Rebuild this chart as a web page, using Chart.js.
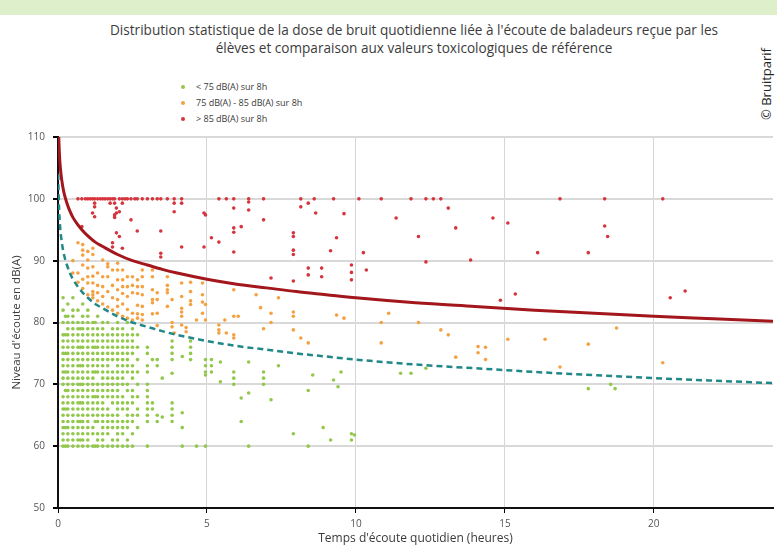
<!DOCTYPE html>
<html lang="fr">
<head>
<meta charset="utf-8">
<title>Dose de bruit quotidienne - baladeurs</title>
<script src="https://cdn.jsdelivr.net/npm/chart.js@4.4.1/dist/chart.umd.min.js"></script>
<style>
    body { margin: 0; background: #fff; font-family: 'Open Sans', sans-serif; }
    #page { position: relative; width: 777px; height: 547px; overflow: hidden; }
    #bandeau { position: absolute; left: 0; top: 0; width: 777px; height: 15px; background: #deefcc; }
    #titre { position: absolute; left: 64px; top: 21px; width: 700px; text-align: center;
             font-size: 13.6px; line-height: 18px; color: #3c3c3c; }
    #legende { position: absolute; left: 179px; top: 79px; font-size: 9px; color: #3a3a3a; }
    #legende div { height: 16px; line-height: 16px; }
    #legende span.pt { display: inline-block; width: 4px; height: 4px; border-radius: 2px;
                       margin: 0 11px 1px 2px; vertical-align: middle; }
    #copyright { position: absolute; left: 766px; top: 84px; transform: translate(-50%, -50%) rotate(-90deg);
                 font-size: 13px; color: #222; white-space: nowrap; }
    #graphique { position: absolute; left: 0; top: 0; }
</style>
</head>
<body>
<div id="page">
    <div id="bandeau"></div>
    <div id="titre">Distribution statistique de la dose de bruit quotidienne liée à l'écoute de baladeurs reçue par les<br>élèves et comparaison aux valeurs toxicologiques de référence</div>
    <div id="legende">
        <div><span class="pt" style="background:#92c84c"></span>&lt; 75 dB(A) sur 8h</div>
        <div><span class="pt" style="background:#f5a142"></span>75 dB(A) - 85 dB(A) sur 8h</div>
        <div><span class="pt" style="background:#d6343c"></span>&gt; 85 dB(A) sur 8h</div>
    </div>
    <div id="copyright">© Bruitparif</div>
    <canvas id="graphique" width="777" height="547"></canvas>
</div>
<script>
// Axes
const xTicks = [0, 5, 10, 15, 20];
const yTicks = [50, 60, 70, 80, 90, 100, 110];

// Élèves < 75 dB(A) sur 8h : durée (heures) et niveaux relevés dans chaque colonne
const greenTimes = [0.17, 0.25, 0.33, 0.5, 0.67, 0.75, 0.83, 1, 1.17, 1.25, 1.33, 1.5, 1.67, 1.83, 2, 2.17, 2.33, 2.5,
    2.67, 3, 3.17, 3.33, 3.5, 3.83, 4.17, 4.45, 4.65, 4.95, 5.15, 5.45, 5.9, 6.15, 6.4, 6.9, 7.15, 7.4, 7.9,
    8.4, 8.55, 8.9, 9.15, 9.25, 9.4, 9.5, 9.85, 9.95, 11.5, 11.85, 12.35, 17.8, 18.55, 18.7];
const greenLevels = [
    [60, 61, 62, 63, 64, 65, 66, 67, 68, 70, 71, 72, 73, 74, 75, 76, 77, 78, 80, 82, 84],
    [60, 63, 66, 69, 72, 75, 78, 81],
    [60, 61, 62, 63, 64, 65, 66, 67, 68, 69, 70, 71, 72, 73, 74, 75, 76, 77, 78, 79, 80, 81, 83],
    [60, 61, 62, 63, 64, 65, 66, 67, 68, 69, 70, 71, 72, 73, 74, 75, 76, 77, 78, 79, 80, 81, 82, 84],
    [60, 61, 62, 63, 64, 65, 66, 67, 68, 69, 70, 71, 72, 73, 74, 75, 76, 77, 78, 79, 80, 82],
    [61, 64, 67, 70, 73, 76, 79],
    [60, 61, 62, 63, 64, 65, 66, 67, 68, 69, 70, 71, 72, 73, 74, 75, 76, 77, 78, 79, 80, 81, 83],
    [60, 61, 62, 63, 64, 65, 66, 67, 68, 69, 70, 71, 72, 73, 74, 75, 76, 77, 78, 79, 80, 81, 82],
    [60, 62, 63, 65, 66, 67, 68, 69, 70, 71, 72, 73, 74, 75, 76, 77, 78, 79, 80],
    [60, 64, 68, 72, 76, 80],
    [60, 61, 62, 64, 65, 66, 67, 68, 69, 70, 72, 73, 74, 75, 76, 77, 78, 79, 81],
    [60, 61, 62, 63, 64, 65, 66, 67, 68, 69, 70, 71, 72, 73, 74, 75, 76, 77, 78, 79, 80],
    [60, 62, 63, 64, 65, 66, 68, 69, 70, 71, 72, 73, 74, 75, 76, 77, 78, 80],
    [60, 61, 63, 64, 65, 67, 68, 69, 70, 71, 72, 74, 75, 76, 77, 78, 79],
    [60, 61, 62, 63, 64, 65, 66, 67, 68, 69, 70, 71, 72, 73, 74, 75, 76, 77, 78, 79, 80],
    [60, 62, 63, 64, 66, 67, 68, 70, 71, 72, 73, 74, 75, 76, 77, 78, 79],
    [60, 61, 63, 64, 65, 66, 67, 69, 70, 72, 73, 74, 75, 76, 77, 78, 80],
    [60, 62, 64, 65, 67, 68, 69, 71, 72, 73, 75, 76, 77, 78, 79],
    [63, 65, 66, 68, 70, 72, 74, 76, 78],
    [60, 64, 65, 66, 67, 68, 69, 70, 72, 73, 75, 76],
    [66, 67, 74],
    [64, 65, 73, 74],
    [64.7, 71],
    [64, 65, 66, 67, 71.8, 74, 75, 76, 77],
    [60, 63, 65.4, 74.5],
    [74, 75, 76, 77],
    [60],
    [60, 71.5, 72, 73, 74],
    [72, 73, 74],
    [70.4, 73.6],
    [70, 71, 72],
    [64, 67.8],
    [60, 68.6, 73.6],
    [70, 71, 72],
    [67.5],
    [73],
    [62],
    [60, 69],
    [71.5],
    [63],
    [61],
    [70.7],
    [69.6],
    [72],
    [61, 62],
    [61.8],
    [71.8],
    [71.8],
    [72.6],
    [69.3],
    [70],
    [69.3]
];

// Élèves entre 75 et 85 dB(A) sur 8h
const orangeTimes = [0.5, 0.67, 0.83, 1, 1.17, 1.33, 1.5, 1.67, 1.83, 2, 2.17, 2.33, 2.5, 2.67, 2.83, 3.17, 3.33, 3.67,
    3.83, 3.9, 4.15, 4.3, 4.45, 4.65, 4.85, 4.95, 5.4, 5.6, 5.65, 5.9, 6.05, 6.65, 6.8, 6.9, 7.15, 7.4, 7.9, 8.15,
    8.4, 9.35, 9.6, 10.85, 11.1, 12.1, 12.85, 13.1, 13.35, 14.1, 14.35, 15.1, 16.35, 16.85, 17.8, 18.75, 20.3];
const orangeLevels = [
    [88, 90],
    [86.5, 88, 92.9],
    [85.5, 87, 89.3, 90.9, 91.7, 92.6],
    [84.5, 86.4, 87.4, 88.8, 90.1, 91.5],
    [84, 84.5, 85, 86.4, 87.5, 89, 91, 92],
    [83.5, 84.8, 86, 88],
    [83, 84.2, 85.8, 87.4, 90.1],
    [82.5, 85, 87.4, 89, 89.5],
    [82, 84, 86, 88.5],
    [81.5, 82.6, 83.7, 85.3, 86.9, 88.5, 89.6],
    [81, 83, 84.7, 85.8, 86.9, 88.5],
    [80.7, 82.1, 84.2, 85.8, 87.4],
    [80.4, 81.5, 84.8, 86, 87.4],
    [80.7, 81.4, 82.8, 84.7, 85.8, 86.9],
    [80.4, 81.3, 82.6, 84.5, 85.8, 87.4, 88.5],
    [81.4, 83.2, 83.7, 85.3, 87.4, 88.5],
    [79.5, 81.5, 83.7, 84.8],
    [82.6, 84.8, 85.3, 86, 87.4],
    [79.3, 80, 83.7],
    [78.3],
    [79.6, 81, 81.7, 82.3, 84.2, 86.4],
    [78.5, 79.2],
    [82.9, 83.5, 85, 86.5],
    [80.4],
    [81.5, 83.3, 84.5, 86.4],
    [80.4, 82.9],
    [78.3, 78.8, 79.6],
    [80.4],
    [78.3],
    [77.5, 78, 81, 85.3],
    [81],
    [84.5],
    [82.4],
    [79],
    [80, 81.5],
    [84],
    [78.8, 81, 81.7],
    [77.5],
    [76.7],
    [81.2],
    [80.7],
    [76.7, 80],
    [81.5],
    [80],
    [78.8],
    [78],
    [74.4],
    [75.1, 76.1],
    [74, 76],
    [77.3],
    [77.3],
    [72.8],
    [76.5],
    [79.1],
    [73.5]
];

// Élèves > 85 dB(A) sur 8h
const redTimes = [0.67, 0.8, 0.92, 1, 1.08, 1.16, 1.23, 1.33, 1.42, 1.5, 1.58, 1.67, 1.75, 1.83, 1.9, 1.96, 2.06, 2.16,
    2.25, 2.33, 2.45, 2.58, 2.66, 2.83, 3, 3.17, 3.33, 3.45, 3.67, 3.9, 4.15, 4.9, 4.95, 5.15, 5.4, 5.65, 5.9, 6.15,
    6.4, 6.9, 7.15, 7.9, 8.15, 8.4, 8.6, 8.65, 8.85, 9.15, 9.25, 9.35, 9.6, 9.85, 10.1, 10.25, 10.35, 10.85, 11.35,
    11.85, 12.1, 12.35, 12.6, 12.85, 13.1, 13.35, 13.85, 14.6, 14.85, 15.1, 15.35, 16.1, 16.85, 17.8, 18.35, 18.45,
    20.3, 20.55, 21.05];
const redLevels = [
    [100], [95.5, 100], [100], [100], [100], [97.7, 100], [97.1, 98.7, 99.3, 100], [100], [100], [100], [100], [100],
    [99.3, 100], [92.2, 92.9, 100], [97, 97.4, 99.3, 100], [94.5, 97.7, 98.5], [93.9, 97.9, 100], [92, 99.3, 100],
    [100], [100], [96.6, 100], [100], [94.8, 100], [100], [100], [100], [100], [90.6, 91.2, 94.8, 100], [100],
    [97.9, 99.3, 100], [92.2, 99.3, 100], [92.2, 97.7], [97.4], [93.7], [93, 100], [100],
    [91.4, 94.6, 95.3, 98.5, 100], [95.5], [98.2, 99.5, 100], [96.6, 100], [87.2], [86.7, 91, 91.7, 93.9, 94.5],
    [98.7, 100], [87.7, 88.8, 99.3], [100], [97.7], [87.4, 88.8], [91.6], [100], [93.7], [97.6], [86.9, 88.1, 89.3],
    [100], [91.3], [88.5], [100], [96.9], [100], [93.9], [89.8, 100], [100], [100], [98.5], [95.3], [90.1],
    [96.9], [83.6], [96.1], [84.6], [91.3], [100], [91.3], [95.6, 100], [93.9], [100], [84], [85.1]
];

// Courbes de référence (85 et 75 dB(A) sur 8h)
const redCurveTimes = [0.025, 0.04, 0.06, 0.08, 0.1, 0.13, 0.17, 0.22, 0.3, 0.4, 0.5, 0.65, 0.8, 1, 1.25, 1.5, 2, 2.5,
    3, 3.5, 4, 5, 6, 7, 8, 9, 10, 12, 14, 16, 18, 20, 22, 24];
const redCurveLevels = [110, 108, 106.2, 105, 104, 102.9, 101.7, 100.6, 99.3, 98, 97, 95.9, 95, 94, 93, 92.3, 91, 90,
    89.3, 88.6, 88, 87, 86.2, 85.6, 85, 84.5, 84, 83.2, 82.6, 82, 81.5, 81, 80.6, 80.2];
const tealCurveTimes = [0.01, 0.015, 0.025, 0.04, 0.06, 0.08, 0.1, 0.13, 0.17, 0.22, 0.3, 0.4, 0.5, 0.65, 0.8, 1, 1.25,
    1.5, 2, 2.5, 3, 3.5, 4, 5, 6, 7, 8, 9, 10, 12, 14, 16, 18, 20, 22, 24];
const tealCurveLevels = [104, 102.3, 100, 98, 96.2, 95, 94, 92.9, 91.7, 90.6, 89.3, 88, 87, 85.9, 85, 84, 83, 82.3, 81,
    80, 79.3, 78.6, 78, 77, 76.2, 75.6, 75, 74.5, 74, 73.2, 72.6, 72, 71.5, 71, 70.6, 70.2];

function columnsToPoints(times, levels) {
    const points = [];
    times.forEach((t, i) => {
        levels[i].forEach(v => points.push({ x: t, y: v }));
    });
    return points;
}

function curveToPoints(times, levels) {
    return times.map((t, i) => ({ x: t, y: levels[i] }));
}

function pointDataset(label, data, color) {
    return {
        label: label,
        data: data,
        backgroundColor: color,
        borderWidth: 0,
        pointRadius: 1.8,
        order: 2
    };
}

const ctx = document.getElementById('graphique').getContext('2d');
new Chart(ctx, {
    type: 'scatter',
    data: {
        datasets: [
            {
                label: '85 dB(A) sur 8h',
                data: curveToPoints(redCurveTimes, redCurveLevels),
                showLine: true,
                borderColor: '#a3161c',
                borderWidth: 3,
                pointRadius: 0,
                cubicInterpolationMode: 'monotone',
                order: 0
            },
            {
                label: '75 dB(A) sur 8h',
                data: curveToPoints(tealCurveTimes, tealCurveLevels),
                showLine: true,
                borderColor: '#218888',
                borderWidth: 2.5,
                borderDash: [6, 4],
                pointRadius: 0,
                cubicInterpolationMode: 'monotone',
                order: 1
            },
            pointDataset('< 75 dB(A) sur 8h', columnsToPoints(greenTimes, greenLevels), '#92c84c'),
            pointDataset('75 dB(A) - 85 dB(A) sur 8h', columnsToPoints(orangeTimes, orangeLevels), '#f5a142'),
            pointDataset('> 85 dB(A) sur 8h', columnsToPoints(redTimes, redLevels), '#d6343c')
        ]
    },
    options: {
        responsive: false,
        animation: false,
        layout: { padding: { top: 137, left: 0, right: 1, bottom: 0 } },
        plugins: {
            legend: { display: false },
            title: { display: false },
            tooltip: { enabled: false }
        },
        scales: {
            x: {
                type: 'linear',
                min: 0,
                max: 24,
                afterFit: axis => { axis.height = 39; },
                afterBuildTicks: axis => { axis.ticks = xTicks.map(v => ({ value: v })); },
                ticks: { color: '#555', font: { family: 'Open Sans', size: 10 }, padding: 5 },
                grid: { color: '#d6d6d6', lineWidth: 1, tickColor: '#000', tickLength: 5 },
                border: { color: '#111', width: 2 },
                title: {
                    display: true,
                    text: "Temps d'écoute quotidien (heures)",
                    color: '#3a3a3a',
                    font: { family: 'Open Sans', size: 12 },
                    padding: { top: 0, bottom: 1 }
                }
            },
            y: {
                type: 'linear',
                min: 50,
                max: 110,
                afterFit: axis => { axis.width = 58; },
                afterBuildTicks: axis => { axis.ticks = yTicks.map(v => ({ value: v })); },
                ticks: { color: '#555', font: { family: 'Open Sans', size: 10 }, padding: 8 },
                grid: { color: '#d9d9d9', lineWidth: 2, tickColor: '#000', tickLength: 5 },
                border: { color: '#111', width: 2 },
                title: {
                    display: true,
                    text: "Niveau d'écoute en dB(A)",
                    color: '#3a3a3a',
                    font: { family: 'Open Sans', size: 11.5 },
                    padding: { top: 10, bottom: 0 }
                }
            }
        }
    }
});
</script>
</body>
</html>
